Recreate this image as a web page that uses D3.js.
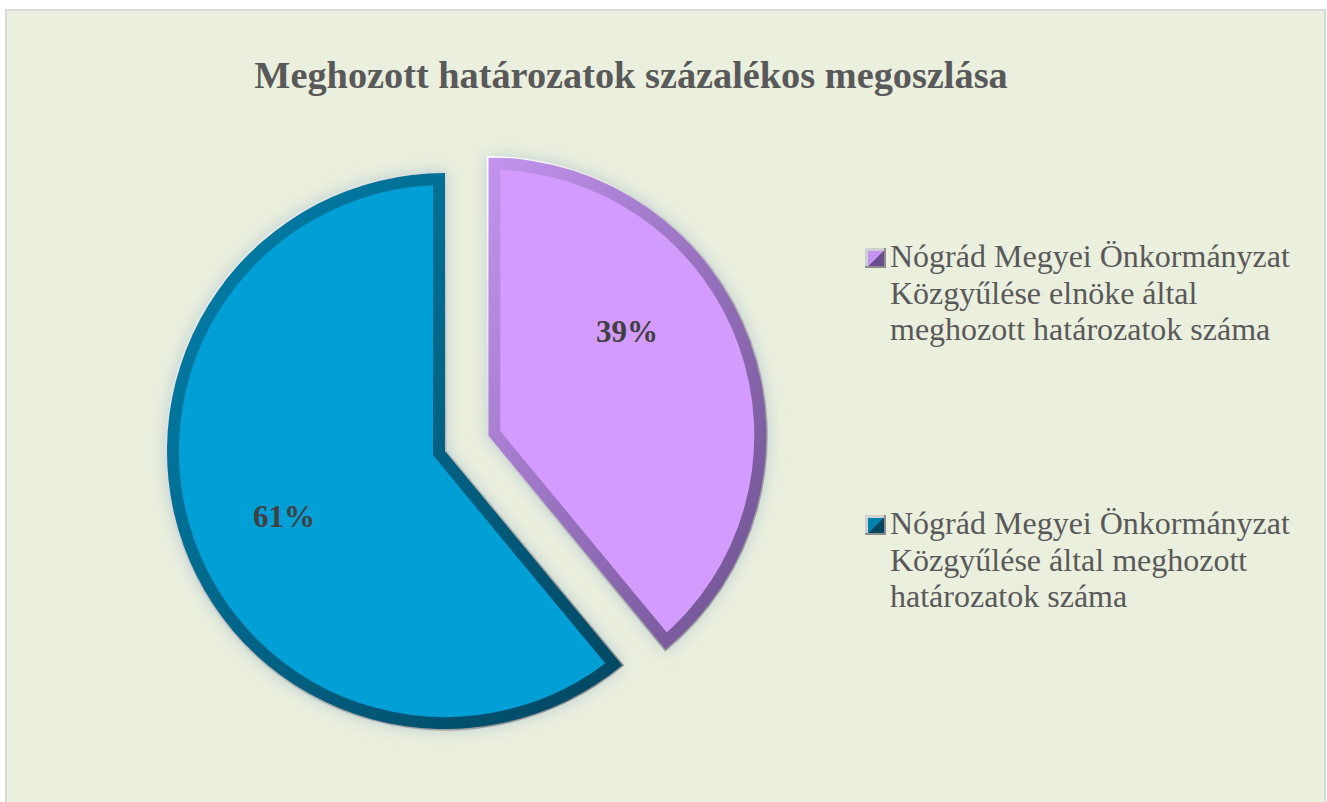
<!DOCTYPE html>
<html lang="hu">
<head>
  <meta charset="UTF-8">
  <title>Meghozott határozatok százalékos megoszlása</title>
  <script src="https://d3js.org/d3.v7.min.js"></script>
  <style>
    body { margin: 0; padding: 0; background: #fff; }
    svg { display: block; }
    text { font-family: "Liberation Serif", "Times New Roman", serif; }
  </style>
</head>
<body>
  <div id="chart"></div>
  <script>
    const width = 1327;
    const height = 802;

    // data
    const title = "Meghozott határozatok százalékos megoszlása";
    const categories = [
      "Nógrád Megyei Önkormányzat Közgyűlése elnöke által meghozott határozatok száma",
      "Nógrád Megyei Önkormányzat Közgyűlése által meghozott határozatok száma"
    ];
    const values = [39, 61];
    const legendLines = [
      ["Nógrád Megyei Önkormányzat", "Közgyűlése elnöke által", "meghozott határozatok száma"],
      ["Nógrád Megyei Önkormányzat", "Közgyűlése által meghozott", "határozatok száma"]
    ];
    const fills = ["#d49bff", "#00a0d6"];
    const bevelLight = ["#c394ef", "#0082ad"];
    const bevelDark = ["#6b4f8c", "#004660"];

    const cx = 445, cy = 451, radius = 278;
    const explode = [46, 0];
    const labelShift = [-0.30, -0.04]; // radians, Excel best-fit nudges

    const svg = d3.select("#chart").append("svg")
      .attr("width", width)
      .attr("height", height);

    const defs = svg.append("defs");

    const glow = defs.append("filter").attr("id", "glow")
      .attr("x", "-20%").attr("y", "-20%").attr("width", "140%").attr("height", "140%");
    glow.append("feGaussianBlur").attr("in", "SourceAlpha").attr("stdDeviation", 8).attr("result", "b");
    glow.append("feFlood").attr("flood-color", "#a6c2cc").attr("flood-opacity", 0.7);
    glow.append("feComposite").attr("in2", "b").attr("operator", "in").attr("result", "g");
    const merge = glow.append("feMerge");
    merge.append("feMergeNode").attr("in", "g");
    merge.append("feMergeNode").attr("in", "SourceGraphic");

    const rim = defs.append("linearGradient").attr("id", "rim")
      .attr("x1", "0").attr("y1", "0").attr("x2", "1").attr("y2", "1");
    rim.append("stop").attr("offset", "0%").attr("stop-color", "#ffffff");
    rim.append("stop").attr("offset", "45%").attr("stop-color", "#c4c4c4");
    rim.append("stop").attr("offset", "100%").attr("stop-color", "#8c8c8c");

    categories.forEach((c, i) => {
      const g = defs.append("linearGradient").attr("id", "bev" + i)
        .attr("x1", "0").attr("y1", "0").attr("x2", "1").attr("y2", "1");
      g.append("stop").attr("offset", "0%").attr("stop-color", bevelLight[i]);
      g.append("stop").attr("offset", "100%").attr("stop-color", bevelDark[i]);

      const m = defs.append("linearGradient").attr("id", "leg" + i)
        .attr("x1", "0").attr("y1", "0").attr("x2", "1").attr("y2", "1");
      m.append("stop").attr("offset", "50%").attr("stop-color", bevelLight[i]);
      m.append("stop").attr("offset", "50%").attr("stop-color", bevelDark[i]);
    });

    // background panel
    svg.append("rect")
      .attr("x", 6).attr("y", 10)
      .attr("width", 1319).attr("height", 800)
      .attr("fill", "#ebefde")
      .attr("stroke", "#d9d9d9")
      .attr("stroke-width", 2);

    svg.append("text")
      .attr("x", 631).attr("y", 88)
      .attr("text-anchor", "middle")
      .attr("font-size", 38.3)
      .attr("font-weight", "bold")
      .attr("fill", "#595959")
      .text(title);

    const pie = d3.pie().sort(null).value(d => d);
    const arcs = pie(values);
    const arc = d3.arc().innerRadius(0).outerRadius(radius);

    const slices = svg.append("g")
      .selectAll("g")
      .data(arcs)
      .enter()
      .append("g")
      .attr("transform", (d, i) => {
        const a = (d.startAngle + d.endAngle) / 2;
        return `translate(${cx + explode[i] * Math.sin(a)},${cy - explode[i] * Math.cos(a)})`;
      });

    slices.each(function(d, i) {
      const g = d3.select(this);
      defs.append("clipPath").attr("id", "clip" + i)
        .append("path").attr("d", arc(d));

      g.append("path")
        .attr("d", arc(d))
        .attr("fill", fills[i])
        .attr("stroke", "url(#rim)")
        .attr("stroke-width", 3)
        .attr("filter", "url(#glow)");

      g.append("path")
        .attr("d", arc(d))
        .attr("fill", "none")
        .attr("stroke", `url(#bev${i})`)
        .attr("stroke-width", 24)
        .attr("stroke-linejoin", "miter")
        .attr("clip-path", `url(#clip${i})`);
    });

    slices.append("text")
      .attr("transform", (d, i) => {
        const a = (d.startAngle + d.endAngle) / 2 + labelShift[i];
        const r = radius * 0.625;
        return `translate(${r * Math.sin(a)},${-r * Math.cos(a)})`;
      })
      .attr("text-anchor", "middle")
      .attr("dy", "0.35em")
      .attr("font-size", 31)
      .attr("font-weight", "bold")
      .attr("fill", "#404040")
      .text(d => d3.format(".0f")(d.value / d3.sum(values) * 100) + "%");

    // legend
    const legendY = [248, 515];
    const legend = svg.append("g")
      .selectAll("g")
      .data(categories)
      .enter()
      .append("g")
      .attr("transform", (d, i) => `translate(865,${legendY[i]})`);

    legend.append("rect")
      .attr("width", 21).attr("height", 20)
      .attr("fill", "#8c8c8c");
    legend.append("rect")
      .attr("width", 19).attr("height", 18)
      .attr("fill", "#d0d0d0");
    legend.append("rect")
      .attr("x", 3).attr("y", 3)
      .attr("width", 16).attr("height", 15)
      .attr("fill", (d, i) => `url(#leg${i})`);

    legend.append("text")
      .attr("x", 25)
      .attr("y", 19)
      .attr("font-size", 32)
      .attr("fill", "#595959")
      .selectAll("tspan")
      .data((d, i) => legendLines[i])
      .enter()
      .append("tspan")
      .attr("x", 25)
      .attr("dy", (d, j) => j === 0 ? 0 : 36.7)
      .text(d => d);
  </script>
</body>
</html>
